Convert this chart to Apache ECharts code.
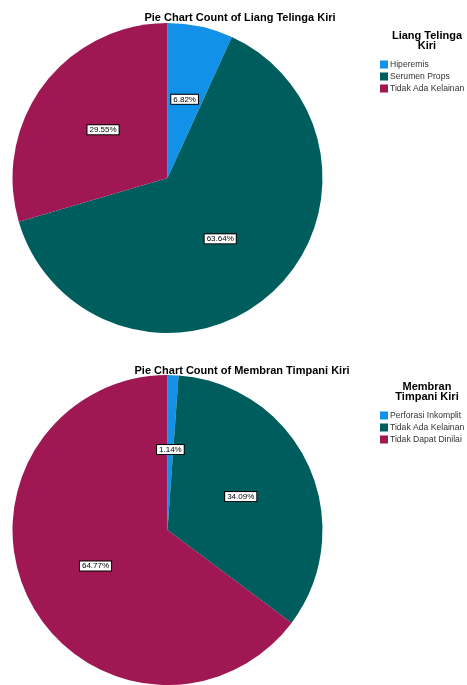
<!DOCTYPE html>
<html><head><meta charset="utf-8">
<script src="https://cdn.jsdelivr.net/npm/echarts@6/dist/echarts.min.js"></script>
<style>html,body{margin:0;padding:0;background:#fff}#c{width:467px;height:685px}</style>
</head><body><div id="c"></div>
<script>
const cats1 = ['Hiperemis', 'Serumen Props', 'Tidak Ada Kelainan'];
const vals1 = [6.82, 63.64, 29.55];
const cats2 = ['Perforasi Inkomplit', 'Tidak Ada Kelainan', 'Tidak Dapat Dinilai'];
const vals2 = [1.14, 34.09, 64.77];
const colors = ['#1192e8', '#005d5d', '#9f1853'];
const F = '"Liberation Sans", Arial, sans-serif';

const chart = echarts.init(document.getElementById('c'), null, {renderer: 'canvas'});
const labelStyle = {
  show: true, position: 'inside',
  formatter: p => p.value.toFixed(2) + '%',
  color: '#000', fontSize: 8, fontFamily: F,
  backgroundColor: '#fff', borderColor: '#000', borderWidth: 1, padding: [1, 2, 0, 2]
};
function mk(cats, vals) {
  return cats.map((c, i) => ({name: c, value: vals[i], itemStyle: {color: colors[i]}}));
}
function lg(cats) {
  return cats.map((c, i) => ({name: c, itemStyle: {color: colors[i]}}));
}
const legendBase = {orient: 'vertical', left: 375, itemWidth: 8, itemHeight: 8, itemGap: 3,
  icon: 'rect', textStyle: {fontSize: 8.6, fontFamily: F, color: '#333', padding: [0, 0, 0, -3]}, selectedMode: false};
chart.setOption({
  animation: false,
  title: [
    {text: 'Pie Chart Count of Liang Telinga Kiri', left: 235, top: 7, textAlign: 'center',
     textStyle: {fontSize: 11, fontWeight: 'bold', fontFamily: F, color: '#000'}},
    {text: 'Pie Chart Count of Membran Timpani Kiri', left: 237, top: 360, textAlign: 'center',
     textStyle: {fontSize: 11, fontWeight: 'bold', fontFamily: F, color: '#000'}},
    {text: 'Liang Telinga\nKiri', left: 422, top: 26, textAlign: 'center',
     textStyle: {fontSize: 11, fontWeight: 'bold', fontFamily: F, color: '#000', lineHeight: 10}},
    {text: 'Membran\nTimpani Kiri', left: 422, top: 377, textAlign: 'center',
     textStyle: {fontSize: 11, fontWeight: 'bold', fontFamily: F, color: '#000', lineHeight: 10}}
  ],
  legend: [
    Object.assign({}, legendBase, {data: lg(cats1), top: 55}),
    Object.assign({}, legendBase, {data: lg(cats2), top: 406})
  ],
  series: [
    {type: 'pie', center: [167.5, 178], radius: [0, 155], startAngle: 90, clockwise: true,
     label: labelStyle, labelLine: {show: false}, emphasis: {disabled: true},
     data: mk(cats1, vals1)},
    {type: 'pie', center: [167.5, 530], radius: [0, 155], startAngle: 90, clockwise: true,
     label: labelStyle, labelLine: {show: false}, emphasis: {disabled: true},
     data: mk(cats2, vals2)}
  ]
});
</script></body></html>
